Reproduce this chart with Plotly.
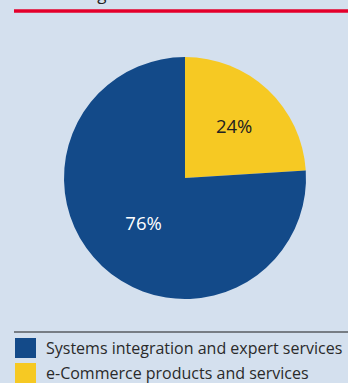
import plotly.graph_objects as go

labels = ["e-Commerce products and services", "Systems integration and expert services"]
values = [24, 76]
colors = ["#f6c923", "#134a89"]
text_colors = ["#222222", "#ffffff"]
legend_order = [1, 0]

W, H = 348, 383
bg = "#d4e0ee"
cx, cy, r = 185, 178, 121

fig = go.Figure()
fig.add_trace(go.Pie(
    labels=labels, values=values, sort=False, direction="clockwise", rotation=0,
    marker=dict(colors=colors, line=dict(width=0)),
    textinfo="percent", texttemplate="%{percent:.0%}",
    textposition="inside", insidetextorientation="horizontal",
    textfont=dict(color=text_colors, size=18.5, family="Open Sans, Lato, sans-serif"),
    domain=dict(x=[(cx - r) / W, (cx + r) / W], y=[1 - (cy + r) / H, 1 - (cy - r) / H]),
    showlegend=False, hoverinfo="label+percent",
))

shapes = [
    dict(type="line", xref="paper", yref="paper", x0=14 / W, x1=1, y0=1 - 11 / H, y1=1 - 11 / H,
         line=dict(color="#e4002b", width=3.5)),
    dict(type="line", xref="paper", yref="paper", x0=14 / W, x1=1, y0=1 - 332 / H, y1=1 - 332 / H,
         line=dict(color="#1a1a1a", width=1)),
]
annotations = [
    dict(text="Percentage of revenues", xref="paper", yref="paper", x=25 / W, y=1 - 7 / H,
         xanchor="left", yanchor="bottom", showarrow=False,
         font=dict(size=17, color="#222222", family="Open Sans, Lato, sans-serif")),
]
row_y = [348, 373]
for i, idx in enumerate(legend_order):
    yc = row_y[i]
    shapes.append(dict(type="rect", xref="paper", yref="paper", x0=15 / W, x1=36 / W,
                       y0=1 - (yc + 10) / H, y1=1 - (yc - 10) / H,
                       fillcolor=colors[idx], line=dict(width=0)))
    annotations.append(dict(text=labels[idx], xref="paper", yref="paper", x=44 / W, y=1 - yc / H,
                            xanchor="left", yanchor="middle", showarrow=False,
                            font=dict(size=16, color="#2a2a2a", family="Open Sans, Lato, sans-serif")))

fig.update_layout(
    width=W, height=H, margin=dict(l=0, r=0, t=0, b=0),
    paper_bgcolor=bg, plot_bgcolor=bg,
    shapes=shapes, annotations=annotations,
)
fig.write_html("out.html")
